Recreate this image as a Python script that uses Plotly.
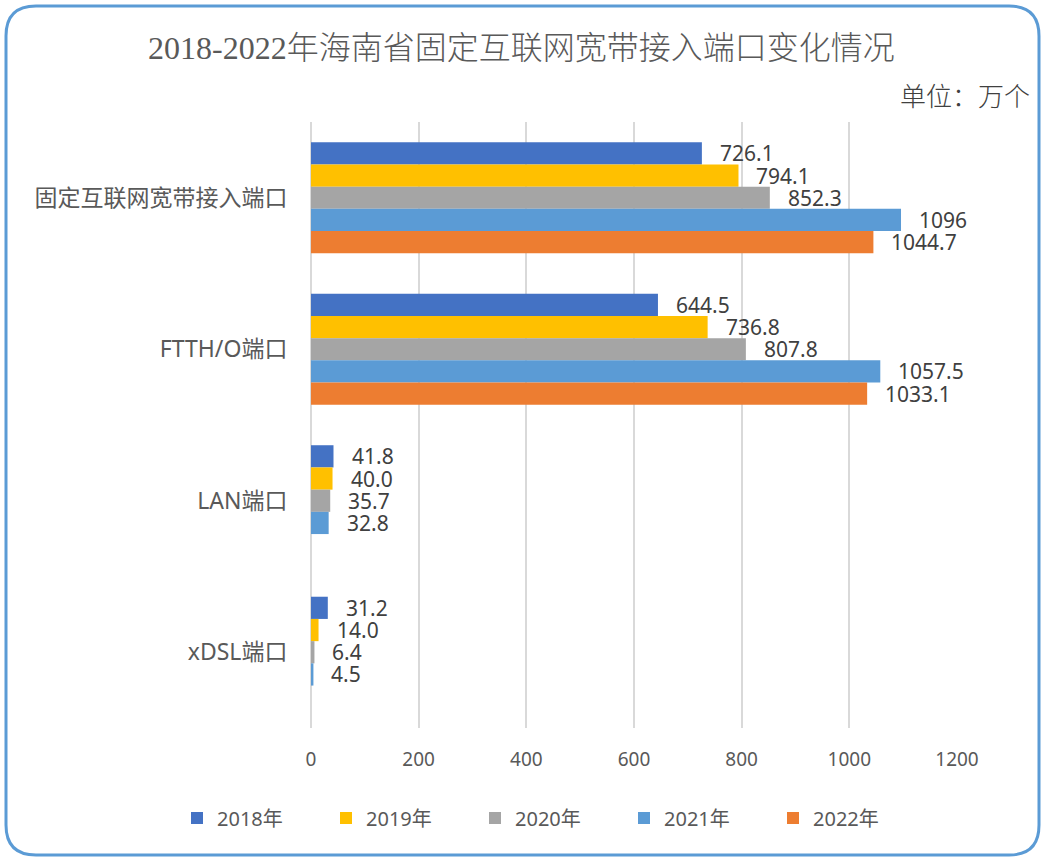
import plotly.graph_objects as go

categories = ["固定互联网宽带接入端口", "FTTH/O端口", "LAN端口", "xDSL端口"]
series_names = ["2018年", "2019年", "2020年", "2021年", "2022年"]
values = {
    "2018年": [726.1, 644.5, 41.8, 31.2],
    "2019年": [794.1, 736.8, 40.0, 14.0],
    "2020年": [852.3, 807.8, 35.7, 6.4],
    "2021年": [1096, 1057.5, 32.8, 4.5],
    "2022年": [1044.7, 1033.1, None, None],
}
labels = {
    "2018年": ["726.1", "644.5", "41.8", "31.2"],
    "2019年": ["794.1", "736.8", "40.0", "14.0"],
    "2020年": ["852.3", "807.8", "35.7", "6.4"],
    "2021年": ["1096", "1057.5", "32.8", "4.5"],
    "2022年": ["1044.7", "1033.1", None, None],
}
colors = ["#4472C4", "#FFC000", "#A5A5A5", "#5B9BD5", "#ED7D31"]
x_ticks = [0, 200, 400, 600, 800, 1000, 1200]

W, H = 1044, 858
L, R, T, B = 311, 87, 122, 130
PW, PH = W - L - R, H - T - B
bargap = 0.267

def px_x(p):
    return (p - L) / PW

def px_y(p):
    return (H - B - p) / PH

fig = go.Figure()
for name, col in zip(series_names, colors):
    fig.add_trace(go.Bar(
        y=categories, x=values[name], name=name, orientation="h",
        marker=dict(color=col, line=dict(width=0)),
        hoverinfo="skip",
    ))

annotations = []
n = len(series_names)
bw = (1 - bargap) / n
for j, name in enumerate(series_names):
    for i, (v, lab) in enumerate(zip(values[name], labels[name])):
        if v is None:
            continue
        annotations.append(dict(
            x=v, y=i + (j - (n - 1) / 2) * bw, xref="x", yref="y",
            text=lab, showarrow=False, xanchor="left", yanchor="middle",
            xshift=16,
            font=dict(family="Noto Sans, Open Sans, sans-serif", size=21, color="#404040"),
        ))

annotations.append(dict(
    x=px_x(521), y=px_y(48), xref="paper", yref="paper",
    text="2018-2022年海南省固定互联网宽带接入端口变化情况", showarrow=False,
    xanchor="center", yanchor="middle",
    font=dict(family="Liberation Serif, Noto Sans CJK SC", size=32, color="#595959", weight=300),
))
annotations.append(dict(
    x=px_x(1032), y=px_y(95), xref="paper", yref="paper",
    text="单位：万个", showarrow=False, xanchor="right", yanchor="middle",
    font=dict(family="Noto Sans CJK SC", size=26, color="#404040", weight=300),
))

# rounded border around the whole chart
x0, x1 = px_x(6), px_x(1039)
y0, y1 = px_y(855), px_y(6)
rx, ry = 30 / PW, 30 / PH
path = (f"M{x0+rx},{y1} L{x1-rx},{y1} Q{x1},{y1} {x1},{y1-ry} "
        f"L{x1},{y0+ry} Q{x1},{y0} {x1-rx},{y0} L{x0+rx},{y0} "
        f"Q{x0},{y0} {x0},{y0+ry} L{x0},{y1-ry} Q{x0},{y1} {x0+rx},{y1} Z")

fig.update_layout(
    width=W, height=H,
    margin=dict(l=L, r=R, t=T, b=B),
    paper_bgcolor="white", plot_bgcolor="white",
    barmode="group", bargap=bargap, bargroupgap=0,
    showlegend=True,
    legend=dict(
        orientation="h", xref="paper", yref="paper",
        x=px_x(177), y=px_y(818), xanchor="left", yanchor="middle",
        entrywidth=104, entrywidthmode="pixels",
        font=dict(family="Noto Sans, Noto Sans CJK SC", size=20, color="#595959"),
        traceorder="normal",
    ),
    annotations=annotations,
    shapes=[dict(type="path", path=path, xref="paper", yref="paper",
                 line=dict(color="#5B9BD5", width=3), fillcolor="rgba(0,0,0,0)", layer="above")],
    xaxis=dict(
        range=[0, 1200], tickvals=x_ticks, ticktext=[str(t) for t in x_ticks],
        showgrid=True, gridcolor="#D9D9D9", gridwidth=2,
        zeroline=True, zerolinecolor="#D9D9D9", zerolinewidth=2,
        showline=False, ticks="outside", ticklen=14, tickcolor="rgba(0,0,0,0)",
        tickfont=dict(family="Noto Sans, Open Sans", size=19, color="#595959"),
        fixedrange=True,
    ),
    yaxis=dict(
        type="category", autorange="reversed",
        showgrid=False, showline=False, zeroline=False,
        ticks="outside", ticklen=18, tickcolor="rgba(0,0,0,0)",
        tickfont=dict(family="Noto Sans, Noto Sans CJK SC", size=23, color="#595959"),
        fixedrange=True,
    ),
)

fig.write_html("out.html")
